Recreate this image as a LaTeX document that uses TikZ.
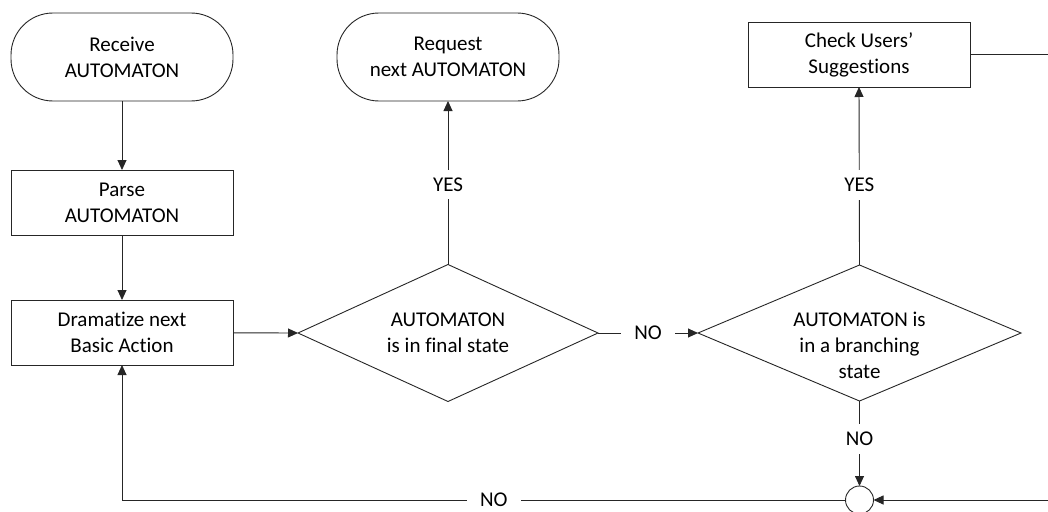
\documentclass[tikz,border=0pt]{standalone}
\usepackage{fontspec}
\setmainfont{Carlito}[RawFeature={-liga;-clig;-calt;-dlig}]
\usetikzlibrary{shapes.geometric,arrows.meta}
\begin{document}
\begin{tikzpicture}[x=1pt,y=-1pt,
  every node/.style={font=\fontsize{21}{26}\selectfont, align=center},
  line/.style={draw=black!85, line width=0.9pt},
  arr/.style={line, -{Triangle[length=10pt,width=9pt]}},
  term/.style={draw=black!85, line width=0.9pt, rounded corners=42pt, minimum width=222pt, minimum height=88pt, inner sep=0pt, outer sep=0pt},
  proc/.style={draw=black!85, line width=0.9pt, minimum width=222pt, minimum height=65pt, inner sep=0pt, outer sep=0pt},
  dec/.style={draw=black!85, line width=0.9pt, diamond, inner sep=0pt, outer sep=0pt},
  lbl/.style={fill=white, inner xsep=13pt, inner ysep=8pt}
]
\useasboundingbox (0,0) rectangle (1048,511);
\node[term] (recv) at (122,57) {Receive\\AUTOMATON};
\node[proc] (parse) at (122,202.5) {Parse\\AUTOMATON};
\node[proc] (dram) at (122,332.5) {Dramatize next\\Basic Action};
\node[term] (req) at (448,57) {Request\\next AUTOMATON};
\node[dec, minimum width=300pt, minimum height=137pt] (d1) at (448,333) {};
\node (d1t) at (448,333) {AUTOMATON\\is in final state};
\node[dec, minimum width=323pt, minimum height=136pt] (d2) at (859.5,333) {};
\node (d2t) at (859.5,345) {AUTOMATON is\\in a branching\\state};
\node[proc] (check) at (859,54.5) {Check Users'\\Suggestions};
\node[circle, draw=black!85, line width=0.9pt, minimum size=28pt, inner sep=0pt, outer sep=0pt] (c) at (859.5,500) {};
\coordinate (r1) at (1070,54.5);
\coordinate (r2) at (1070,500);

\draw[arr] (recv) -- (parse);
\draw[arr] (parse) -- (dram);
\draw[arr] (dram) -- (d1.west);
\draw[arr] (d1.north) -- node[lbl, pos=0.49] {YES} (req.south);
\draw[arr] (d1.east) -- node[lbl, pos=0.5] {NO} (d2.west);
\draw[arr] (d2.north) -- node[lbl, pos=0.45] {YES} (check.south);
\draw[arr] (d2.south) -- node[lbl, pos=0.45] {NO} (c.north);
\draw[line] (check.east) -- (r1) -- (r2);
\draw[arr] (r2) -- (c.east);
\draw[arr] (c.west) -| node[lbl, pos=0.243] {NO} (dram.south);
\end{tikzpicture}
\end{document}
